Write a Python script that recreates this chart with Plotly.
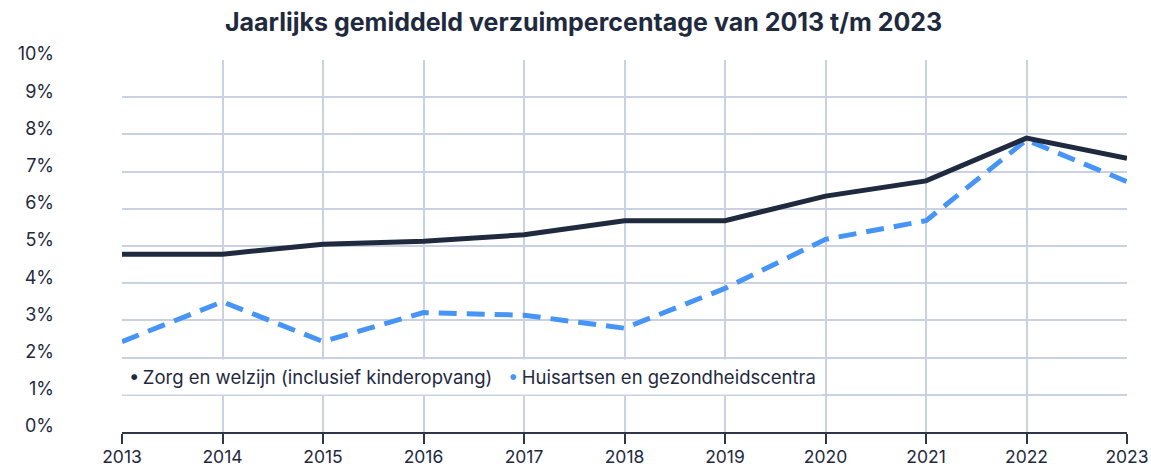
import plotly.graph_objects as go

years = [2013, 2014, 2015, 2016, 2017, 2018, 2019, 2020, 2021, 2022, 2023]
zorg = [4.78, 4.78, 5.05, 5.13, 5.30, 5.68, 5.68, 6.34, 6.75, 7.90, 7.36]
huisartsen = [2.43, 3.50, 2.43, 3.21, 3.14, 2.79, 3.86, 5.18, 5.68, 7.85, 6.73]
name_zorg = "Zorg en welzijn (inclusief kinderopvang)"
name_huis = "Huisartsen en gezondheidscentra"
y_ticks = list(range(0, 11))
y_labels = [f"{v}%" for v in y_ticks]
title = "Jaarlijks gemiddeld verzuimpercentage van 2013 t/m 2023"

dark = "#1f2a3f"
blue = "#4695f6"
grid = "#c9d1e3"
font = "Inter, Lato, Open Sans, sans-serif"

fig = go.Figure()
fig.add_trace(go.Scatter(x=years, y=huisartsen, mode="lines", name=name_huis,
                         line=dict(color=blue, width=5, dash="18px,10px"),
                         cliponaxis=False, showlegend=False))
fig.add_trace(go.Scatter(x=years, y=zorg, mode="lines", name=name_zorg,
                         line=dict(color=dark, width=5),
                         cliponaxis=False, showlegend=False))

legend_text = (f"<span style='color:{dark}'>•</span>\u2009{name_zorg}"
               "\u00a0\u00a0\u00a0"
               f"<span style='color:{blue}'>•</span>\u2009{name_huis}")
fig.add_annotation(x=years[0], y=1.47, xref="x", yref="y", xanchor="left", yanchor="middle",
                   xshift=0, text=legend_text, showarrow=False, align="left",
                   font=dict(family=font, size=18.5, color=dark),
                   bgcolor="white", borderpad=6)

fig.update_layout(
    width=1151, height=466,
    margin=dict(l=122, r=24, t=60, b=34, autoexpand=False),
    paper_bgcolor="white", plot_bgcolor="white",
    title=dict(text=f"<b>{title}</b>", x=0.507, xanchor="center", y=0.953, yanchor="middle",
               font=dict(family=font, size=25, color=dark)),
    font=dict(family=font, size=18, color=dark),
    xaxis=dict(range=[2013, 2023], tickmode="array", tickvals=years,
               ticktext=[str(y) for y in years], automargin=False,
               showgrid=True, gridcolor=grid, gridwidth=1.5,
               showline=True, linecolor="#2e3648", linewidth=1.5,
               ticks="outside", ticklen=10, tickwidth=1.5, tickcolor="#2e3648",
               ticklabelstandoff=-2,
               zeroline=False, tickfont=dict(size=17.5, color=dark)),
    yaxis=dict(range=[0, 10], tickmode="array", tickvals=y_ticks, ticktext=y_labels,
               automargin=False,
               showgrid=True, gridcolor=grid, gridwidth=1.5, zeroline=False,
               showline=False, ticks="", ticklabelstandoff=67, ticklabelshift=-6,
               tickfont=dict(size=18, color=dark)),
)

fig.write_html("out.html", config={"displayModeBar": False},
               post_script="document.body.style.margin='0';document.body.style.overflow='hidden';")
